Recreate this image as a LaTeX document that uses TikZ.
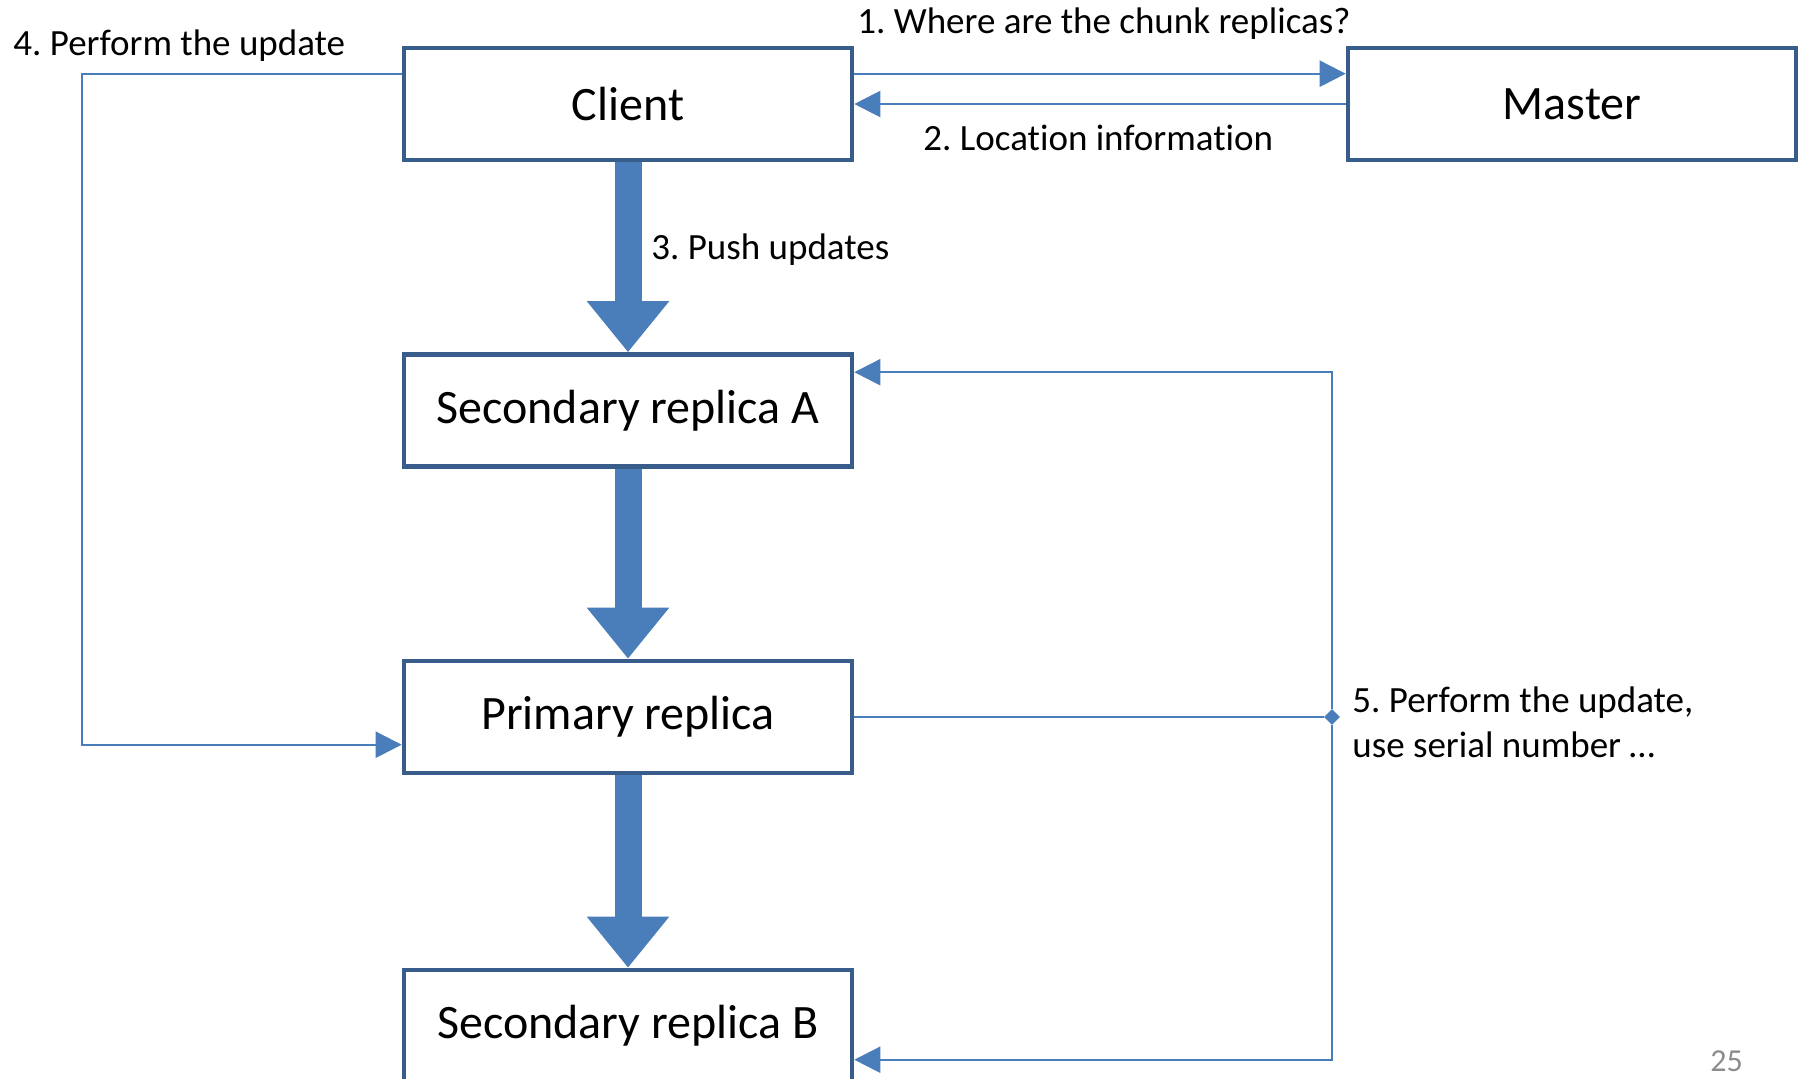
\documentclass[tikz,border=0pt]{standalone}
\usepackage{fontspec}
\setmainfont{Carlito}[Ligatures=NoCommon]
\usetikzlibrary{arrows.meta,shapes.geometric}
\definecolor{boxblue}{HTML}{385D8A}
\definecolor{linkblue}{HTML}{4A7EBB}
\definecolor{pagegray}{HTML}{8C8C8C}
\frenchspacing

\begin{document}
\begin{tikzpicture}[x=0.5pt,y=-0.5pt,
  box/.style={draw=boxblue,line width=2.3pt,fill=white,minimum width=224pt,
    minimum height=56pt,inner sep=0pt,font=\fontsize{24}{29}\selectfont},
  fatarrow/.style={linkblue,line width=13.5pt,
    -{Triangle[length=25.5pt,width=39.5pt]}},
  link/.style={linkblue,line width=1.1pt},
  linkarrow/.style={link,-{Triangle[length=13pt,width=13pt]}},
  note/.style={anchor=base west,inner sep=0pt,align=left,
    font=\fontsize{18.5}{22.5}\selectfont},
  junction/.style={diamond,fill=linkblue,inner sep=0pt,minimum size=8pt}]
\useasboundingbox (0,0) rectangle (1803,1078);

% Define the columns and rows
\pgfmathsetmacro{\Xcol}{628};
\pgfmathsetmacro{\Xmaster}{1572};
\pgfmathsetmacro{\Xsplit}{1332};
\pgfmathsetmacro{\Yclient}{104};
\pgfmathsetmacro{\YsecA}{410.5};
\pgfmathsetmacro{\Yprim}{717};
\pgfmathsetmacro{\YsecB}{1026};

% the boxes
\node[box] (client) at (\Xcol,\Yclient) {Client};
\node[box] (master) at (\Xmaster,\Yclient) {Master};
\node[box] (secA) at (\Xcol,\YsecA) {Secondary replica A};
\node[box] (prim) at (\Xcol,\Yprim) {Primary replica};
\node[box] (secB) at (\Xcol,\YsecB) {Secondary replica B};
\node[junction] (split) at (\Xsplit,\Yprim) {};

% the data flow
\draw [fatarrow] (client.south) -- (secA.north);
\draw [fatarrow] (secA.south) -- (prim.north);
\draw [fatarrow] (prim.south) -- (secB.north);

% the control messages
\draw [linkarrow] ([yshift=-14pt]client.north east) -- ([yshift=-14pt]master.north west);
\draw [linkarrow] (master.west) -- (client.east);
\draw [linkarrow] ([yshift=-14pt]client.north west) -- ++(-320,0)
             |- ([yshift=-43pt]prim.north west);
\draw [link] (prim.east) -- (split);
\draw [linkarrow] (split) |- ([yshift=-10pt]secA.north east);
\draw [linkarrow] (split) |- ([yshift=-46pt]secB.north east);

%%%%%%%%%%%%%%%%%%%%%%%%%%%%%%%%%%%%%%%%%%%%%%%%%%%%%%%%%%%%%%%%%%%%%%%%%%%%
\node[note] (ask) at (857,33) {1. Where are the chunk replicas?};
\node[note] (loc) at (923,150) {2. Location information};
\node[note] (push) at (651,259) {3. Push updates};
\node[note] (perform) at (13,55) {4. Perform the update};
\node[note] (serial) at (1352,757) {5. Perform the update,\\use serial number \dots};
\node[anchor=base west,inner sep=0pt,text=pagegray,font=\fontsize{16}{19}\selectfont]
  (page) at (1710,1071) {25};
\end{tikzpicture}
\end{document}
